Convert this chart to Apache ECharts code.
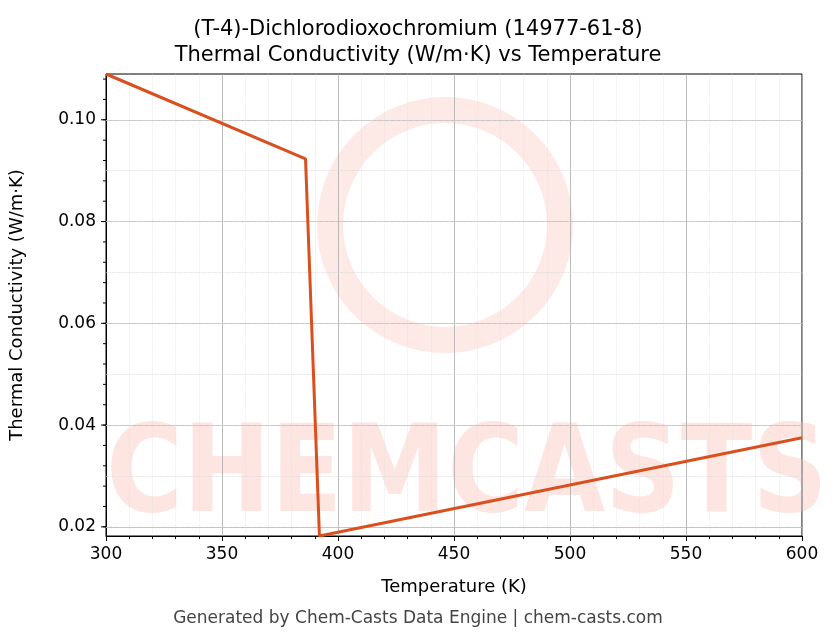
<!DOCTYPE html>
<html>
<head>
<meta charset="utf-8">
<script src="https://cdn.jsdelivr.net/npm/echarts@6/dist/echarts.min.js"></script>
<style>html,body{margin:0;padding:0;background:#fff}#chart{width:836px;height:644px}</style>
</head>
<body>
<div id="chart"></div>
<script>
// data
var temps = [300, 386, 392, 600];
var conductivity = [0.109, 0.0923, 0.0182, 0.0375];
var yTicks = [0.02, 0.04, 0.06, 0.08, 0.10];

var chart = echarts.init(document.getElementById('chart'));
var pts = temps.map(function(t, i) { return [t, conductivity[i]]; });

var option = {
    backgroundColor: '#fff',
    animation: false,
    title: {
        text: '(T-4)-Dichlorodioxochromium (14977-61-8)\nThermal Conductivity (W/m·K) vs Temperature',
        left: 'center', top: 12,
        textStyle: { fontFamily: 'DejaVu Sans', fontSize: 21, fontWeight: 'normal', color: '#000', lineHeight: 26 }
    },
    graphic: [
        { type: 'text', x: 106, y: 418, scaleX: 0.86, silent: true,
          style: { text: 'CHEMCASTS', font: 'bold 122px DejaVu Sans', fill: 'rgba(250,200,190,0.45)' } },
        { type: 'circle', shape: { cx: 445, cy: 225, r: 115 }, silent: true,
          style: { fill: 'none', stroke: 'rgba(250,200,190,0.4)', lineWidth: 26 } },
        { type: 'text', left: 'center', top: 610,
          style: { text: 'Generated by Chem-Casts Data Engine | chem-casts.com', font: '17px DejaVu Sans', fill: '#444' } }
    ],
    grid: { left: 104, right: 34, top: 74, bottom: 108, show: true, borderColor: '#000', borderWidth: 1 },
    xAxis: {
        type: 'value', min: 300, max: 600, interval: 50,
        name: 'Temperature (K)', nameLocation: 'middle', nameGap: 42,
        nameTextStyle: { fontFamily: 'DejaVu Sans', fontSize: 18, color: '#000' },
        axisLine: { onZero: false, lineStyle: { color: '#000' } },
        axisTick: { length: 5, lineStyle: { color: '#000' } },
        minorTick: { show: true, splitNumber: 5, length: 3, lineStyle: { color: '#000' } },
        axisLabel: { fontFamily: 'DejaVu Sans', fontSize: 17, color: '#000', margin: 10 },
        splitLine: { lineStyle: { color: '#aaa', width: 0.8 } },
        minorSplitLine: { show: true, lineStyle: { color: '#ddd', type: 'dotted', width: 0.6 } }
    },
    yAxis: {
        type: 'value', min: 0.0182, max: 0.109,
        name: 'Thermal Conductivity (W/m·K)', nameLocation: 'middle', nameGap: 80,
        nameTextStyle: { fontFamily: 'DejaVu Sans', fontSize: 18, color: '#000' },
        axisLine: { show: true, lineStyle: { color: '#000' } },
        axisTick: { show: false },
        axisLabel: { show: false },
        splitLine: { show: false }
    },
    series: [
        { type: 'line', data: pts, symbol: 'none', lineStyle: { color: '#d9501e', width: 3 }, z: 5 },
        { type: 'scatter', data: [], silent: true,
          markLine: { silent: true, symbol: 'none', label: { show: false },
            lineStyle: { color: '#aaa', width: 0.8, type: 'solid' },
            data: yTicks.map(function(v) { return { yAxis: v }; }) } },
        { type: 'scatter', data: [], silent: true,
          markLine: { silent: true, symbol: 'none', label: { show: false },
            lineStyle: { color: '#ddd', width: 0.6, type: 'dotted' },
            data: (function() { var a = []; for (var i = 0; i < 23; i++) { var v = +(0.02 + i * 0.004).toFixed(3); if (yTicks.indexOf(v) < 0 && v < 0.109) a.push({ yAxis: v }); } return a; })() } }
    ]
};
chart.setOption(option);

// y tick labels and ticks placed through the axis scale
var g = [];
yTicks.forEach(function(v) {
    var p = chart.convertToPixel({ gridIndex: 0 }, [300, v]);
    g.push({ type: 'text', x: p[0] - 10, y: p[1], style: { text: v.toFixed(2), font: '17px DejaVu Sans', fill: '#000', align: 'right', verticalAlign: 'middle' } });
    g.push({ type: 'line', shape: { x1: p[0] - 5, y1: p[1], x2: p[0], y2: p[1] }, style: { stroke: '#000' } });
});
for (var i = 0; i < 23; i++) {
    var v = 0.02 + i * 0.004;
    if (v > 0.109) break;
    var p = chart.convertToPixel({ gridIndex: 0 }, [300, v]);
    g.push({ type: 'line', shape: { x1: p[0] - 3, y1: p[1], x2: p[0], y2: p[1] }, style: { stroke: '#000' } });
}
chart.setOption({ graphic: option.graphic.concat(g) });
</script>
</body>
</html>
